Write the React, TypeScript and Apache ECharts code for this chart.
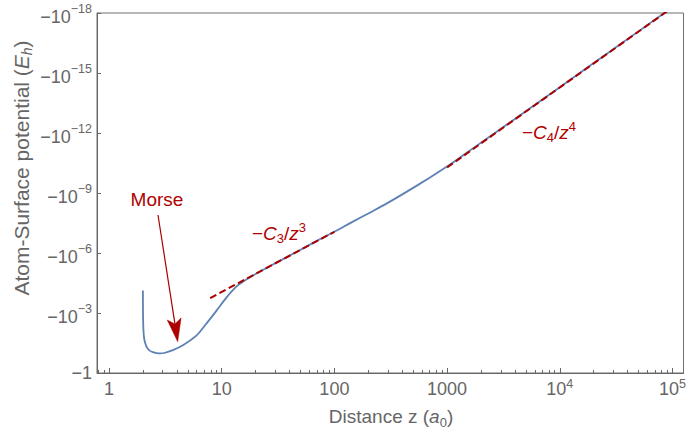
import React, { useEffect, useRef } from 'react';
import * as echarts from 'echarts';

// ---- data ----
// Full atom-surface potential (blue curve): distance z (a0) and potential (Eh)
const blueZ = [2.0, 2.005, 2.02, 2.05, 2.1, 2.16, 2.3, 2.45, 2.65, 2.83, 3.1, 3.69, 4.53, 5.99, 7.34, 9.01, 11.05, 13.56, 16, 20, 30, 50, 75, 100, 146, 200, 290, 571, 1128, 1585, 3000, 1e4, 3e4, 1e5];
const blueV = [-7.6e-5, -1.0e-3, -6.3e-3, -0.0178, -0.033, -0.05, -0.076, -0.091, -0.102, -0.105, -0.1, -0.072, -0.041, -0.0132, -0.0033, -7.6e-4, -1.66e-4, -4.7e-5, -2.4e-5, -1.12e-5, -3.2e-6, -6.9e-7, -2.0e-7, -8.7e-8, -2.7e-8, -1.05e-8, -3.4e-9, -3.5e-10, -2.95e-11, -7.6e-12, -6.2e-13, -5.1e-15, -6.3e-17, -5.1e-19];
// -C3/z^3 asymptote (dashed)
const c3Z = [7.9, 100];
const c3V = [-1.8e-4, -8.7e-8];
// -C4/z^4 asymptote (dashed)
const c4Z = [1000, 1e5];
const c4V = [-5.3e-11, -5.3e-19];

// axis ticks
const xTickExp = [0, 1, 2, 3, 4, 5];
const xTickText = ['1', '10', '100', '1000', '10^4', '10^5'];
const yTickExp = [0, -3, -6, -9, -12, -15, -18];

const X_MIN = Math.log10(0.783);
const X_MAX = Math.log10(125200);

const FONT = '"Liberation Sans", Arial, Helvetica, sans-serif';
const GRAY = '#666666';
const RED = '#aa0000';
const RED_TEXT = '#b00000';
const BLUE = '#5e81b5';

const toXY = (zs: number[], vs: number[]) => zs.map((z, i) => [Math.log10(z), Math.log10(-vs[i])]);

const minorTicks: number[] = [];
for (let e = -1; e <= 4; e++) {
  for (let k = 2; k <= 9; k++) {
    const v = Math.log10(k * Math.pow(10, e));
    if (v > X_MIN && v < X_MAX) minorTicks.push(v);
  }
}

export default function App() {
  const ref = useRef<HTMLDivElement>(null);
  useEffect(() => {
    if (!ref.current) return;
    const chart = echarts.init(ref.current, undefined, { renderer: 'svg' });
    const xLabelRich = {
      b: { fontSize: 18, lineHeight: 24, color: GRAY, fontFamily: FONT },
      s: { fontSize: 12.5, verticalAlign: 'top', color: GRAY, fontFamily: FONT },
    };
    const yLabelRich = {
      b: { fontSize: 18, verticalAlign: 'bottom', color: GRAY, fontFamily: FONT },
      s: { fontSize: 12.5, lineHeight: 26, verticalAlign: 'top', padding: [2, 0, 0, 0], color: GRAY, fontFamily: FONT },
      b1: { fontSize: 18, lineHeight: 18, color: GRAY, fontFamily: FONT },
    };
    const annRich = {
      m: { fontSize: 19, lineHeight: 24, fill: RED_TEXT, fontFamily: FONT },
      i: { fontSize: 19, lineHeight: 24, fontStyle: 'italic', fill: RED_TEXT, fontFamily: FONT },
      sub: { fontSize: 13, lineHeight: 11, verticalAlign: 'bottom', fill: RED_TEXT, fontFamily: FONT },
      sup: { fontSize: 13, lineHeight: 14, verticalAlign: 'top', fill: RED_TEXT, fontFamily: FONT },
    };
    const titleRich = {
      t: { fontSize: 19, lineHeight: 24, fill: GRAY, fontFamily: FONT },
      i: { fontSize: 19, lineHeight: 24, fontStyle: 'italic', fill: GRAY, fontFamily: FONT },
      s0: { fontSize: 13, lineHeight: 12, verticalAlign: 'bottom', fill: GRAY, fontFamily: FONT },
    };
    const yTitleRich = {
      t: { fontSize: 21, lineHeight: 26, fill: GRAY, fontFamily: FONT },
      i: { fontSize: 21, lineHeight: 26, fontStyle: 'italic', fill: GRAY, fontFamily: FONT },
      sub: { fontSize: 14, lineHeight: 13, verticalAlign: 'bottom', fontStyle: 'italic', fill: GRAY, fontFamily: FONT },
    };

    // arrow geometry (annotation)
    const tip = [177.7, 341.7];
    const start = [158, 215];
    const dx = tip[0] - start[0], dy = tip[1] - start[1];
    const len = Math.hypot(dx, dy);
    const ux = dx / len, uy = dy / len;
    const nx = uy, ny = -ux;
    const headL = 23, headW = 7;
    const bx = tip[0] - headL * ux, by = tip[1] - headL * uy;
    const notchX = tip[0] - 18 * ux, notchY = tip[1] - 18 * uy;

    chart.setOption({
      animation: false,
      grid: { left: 97, right: 5, top: 10, bottom: 61, show: true, borderColor: '#707070', borderWidth: 1, backgroundColor: 'transparent' },
      xAxis: [
        {
          type: 'value', min: X_MIN, max: X_MAX, position: 'bottom',
          axisLine: { show: true, onZero: false, lineStyle: { color: GRAY, width: 1 } },
          axisTick: { show: true, inside: true, length: 5, customValues: xTickExp, lineStyle: { color: GRAY, width: 1 } },
          axisLabel: {
            show: true, customValues: xTickExp, margin: 4, color: GRAY, fontFamily: FONT, fontSize: 18,
            formatter: (v: number) => {
              const idx = xTickExp.indexOf(Math.round(v));
              const t = xTickText[idx] ?? '';
              if (t.includes('^')) { const [a, b] = t.split('^'); return `{b|${a}}{s|${b}}`; }
              return `{b|${t}}`;
            },
            rich: xLabelRich,
          },
          splitLine: { show: false },
        },
        {
          type: 'value', min: X_MIN, max: X_MAX, position: 'bottom', gridIndex: 0,
          axisLine: { show: false, onZero: false },
          axisTick: { show: true, inside: true, length: 3, customValues: minorTicks, lineStyle: { color: GRAY, width: 1 } },
          axisLabel: { show: false },
          splitLine: { show: false },
        },
      ],
      yAxis: {
        type: 'value', min: -18, max: 0, interval: 3, inverse: true,
        axisLine: { show: true, onZero: false, lineStyle: { color: GRAY, width: 1 } },
        axisTick: { show: true, inside: true, length: 4, lineStyle: { color: GRAY } },
        axisLabel: {
          margin: 5, color: GRAY, fontFamily: FONT, fontSize: 18,
          formatter: (v: number) => (Math.round(v) === 0 ? '{b1|\u22121}' : `{b|\u221210}{s|\u2212${-Math.round(v)}}`),
          rich: yLabelRich,
        },
        splitLine: { show: false },
      },
      series: [
        {
          type: 'line', xAxisIndex: 0, data: toXY(blueZ, blueV), showSymbol: false, symbol: 'none',
          smooth: 0.3, lineStyle: { color: BLUE, width: 1.8 }, z: 2,
        },
        {
          type: 'line', xAxisIndex: 0, data: toXY(c3Z, c3V), showSymbol: false, symbol: 'none',
          lineStyle: { color: RED, width: 2, type: [7, 3.5] }, z: 3,
        },
        {
          type: 'line', xAxisIndex: 0, data: toXY(c4Z, c4V), showSymbol: false, symbol: 'none',
          lineStyle: { color: RED, width: 2, type: [7, 3.5] }, z: 3,
        },
      ],
      graphic: [
        {
          type: 'text', x: 21, y: 168, rotation: Math.PI / 2,
          style: {
            text: '{t|Atom-Surface potential (}{i|E}{sub|h}{t|)}', rich: yTitleRich,
            align: 'center', verticalAlign: 'middle', fill: GRAY,
          },
        },
        {
          type: 'text', x: 391, y: 416.7,
          style: {
            text: '{t|Distance z (}{i|a}{s0|0}{t|)}', rich: titleRich,
            align: 'center', verticalAlign: 'middle', fill: GRAY,
          },
        },
        {
          type: 'text', x: 157, y: 199,
          style: { text: 'Morse', fill: RED_TEXT, font: `19px ${FONT}`, align: 'center', verticalAlign: 'middle' },
        },
        {
          type: 'text', x: 252, y: 233.3,
          style: { text: '{m|\u2212}{i|C}{sub|3}{m|/}{i|z}{sup|3}', rich: annRich, fill: RED_TEXT, align: 'left', verticalAlign: 'middle' },
        },
        {
          type: 'text', x: 522, y: 132,
          style: { text: '{m|\u2212}{i|C}{sub|4}{m|/}{i|z}{sup|4}', rich: annRich, fill: RED_TEXT, align: 'left', verticalAlign: 'middle' },
        },
        {
          type: 'line',
          shape: { x1: start[0], y1: start[1], x2: notchX, y2: notchY },
          style: { stroke: RED, lineWidth: 1.2 },
        },
        {
          type: 'polygon',
          shape: { points: [[tip[0], tip[1]], [bx - headW * nx, by - headW * ny], [notchX, notchY], [bx + headW * nx, by + headW * ny]] },
          style: { fill: RED, stroke: RED, lineWidth: 0.5 },
        },
      ],
    });
    return () => chart.dispose();
  }, []);
  return <div ref={ref} style={{ width: 689, height: 434, position: 'absolute', left: 0, top: 0 }} />;
}
